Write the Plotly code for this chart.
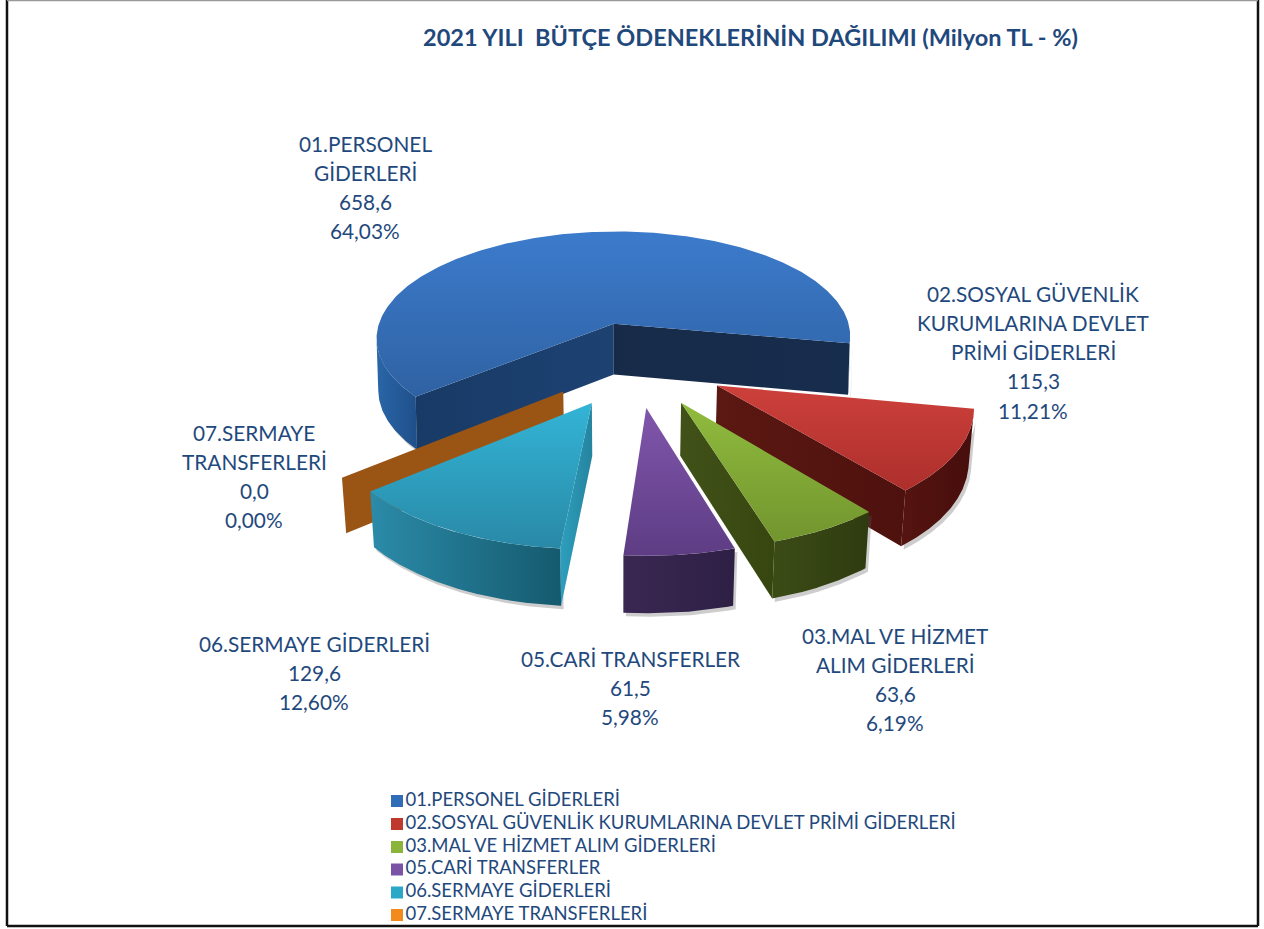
import numpy as np
import plotly.graph_objects as go

# ---------- data ----------
categories = ["01.PERSONEL GİDERLERİ",
              "02.SOSYAL GÜVENLİK KURUMLARINA DEVLET PRİMİ GİDERLERİ",
              "03.MAL VE HİZMET ALIM GİDERLERİ",
              "05.CARİ TRANSFERLER",
              "06.SERMAYE GİDERLERİ",
              "07.SERMAYE TRANSFERLERİ"]
values = [658.6, 115.3, 63.6, 61.5, 129.6, 0.0]
value_labels = ["658,6", "115,3", "63,6", "61,5", "129,6", "0,0"]
percent_labels = ["64,03%", "11,21%", "6,19%", "5,98%", "12,60%", "0,00%"]
label_lines = [["01.PERSONEL", "GİDERLERİ"],
               ["02.SOSYAL GÜVENLİK", "KURUMLARINA DEVLET", "PRİMİ GİDERLERİ"],
               ["03.MAL VE HİZMET", "ALIM GİDERLERİ"],
               ["05.CARİ TRANSFERLER"],
               ["06.SERMAYE GİDERLERİ"],
               ["07.SERMAYE", "TRANSFERLERİ"]]
title_text = "2021 YILI  BÜTÇE ÖDENEKLERİNİN DAĞILIMI (Milyon TL - %)"

# ---------- style and layout ----------
FONT = "Lato"
TEXT = "#1f497d"
label_pos = [(365, 143), (1033, 293), (895, 635), (630, 658), (314, 643), (254, 432)]
LINE_PITCH = 29.3
top_cols = [("#2f62a3", "#3c7bcc"), ("#ad2f2c", "#cd403b"), ("#72952e", "#90bc3e"),
            ("#5e3d84", "#8056ac"), ("#2989a7", "#33b4d6"), ("#9a5514", "#9a5514")]
wall_cols = [("#2a66a8", "#1f4f8a"), ("#551410", "#460e0c"), ("#3c4c16", "#2e3b10"),
             ("#3a2752", "#2e2045"), ("#2b8ba9", "#155a6e"), ("#9a5514", "#9a5514")]
face_start = [("#183a66", "#1d4272"), None, None, None, ("#2d9fbd", "#25849f"), ("#9a5514", "#9a5514")]
face_end = [("#172b49", "#172d4d"), ("#5c1812", "#4e110e"), ("#415219", "#37460f"),
            None, None, None]
legend_cols = ["#2f6db8", "#c0392f", "#8ab43c", "#7a52a6", "#2ba7c8", "#f28a1e"]
legend_y = [801, 824, 847, 869.5, 892.5, 915]
draw_order = [0, 1, 2, 3, 5, 4]
converge = [0.993, 0.985, 0.985, 0.985, 0.985, 0.985]

# projection fitted to the picture
CX, CY, RAD, TILT, PERSP, START, EXPLODE = 636.0, 363.2, 246.25, 0.465, 0.1347, 2.4439, 0.373
DEPTH, VX = 52.0, 620.0


def project(X, Y, conv=None):
    s = 1 / (1 - PERSP * Y)
    x = CX + RAD * X * s
    y = CY + RAD * TILT * Y * s
    if conv is not None:
        x = VX + (x - VX) * conv
        y = y + DEPTH * np.sqrt(s)
    return x, y


frac = np.array(values) / sum(values)
edges = START + np.concatenate([[0], np.cumsum(frac)]) * 2 * np.pi

fig = go.Figure()


def poly(x, y, cols=None, kind="vertical", solid=None):
    x = np.append(x, x[0])
    y = np.append(y, y[0])
    kw = dict(x=x, y=y, mode="lines", fill="toself", line=dict(width=0),
              hoverinfo="skip", showlegend=False)
    if solid:
        kw["fillcolor"] = solid
    else:
        kw["fillgradient"] = dict(type=kind, colorscale=[[0, cols[0]], [1, cols[1]]])
    fig.add_trace(go.Scatter(**kw))


for i in draw_order:
    t1, t2 = edges[i], edges[i + 1]
    mid = (t1 + t2) / 2
    conv = converge[i]
    ox, oy = EXPLODE * np.cos(mid), EXPLODE * np.sin(mid)
    ax, ay = project(ox, oy)
    lx, ly = project(ox, oy, conv)
    tt = np.linspace(t1, t2, 300)
    # the rim shows only between the two silhouette points of the circle
    circle = np.linspace(0, 2 * np.pi, 1441)
    cxs, _ = project(ox + np.cos(circle), oy + np.sin(circle))
    t_left, t_right = circle[np.argmin(cxs)], circle[np.argmax(cxs)]
    span = (t_left - t_right) % (2 * np.pi)
    vis = ((tt - t_right) % (2 * np.pi)) <= span
    rims = []
    idx = np.where(vis)[0]
    if len(idx):
        for seg in np.split(idx, np.where(np.diff(idx) > 1)[0] + 1):
            if len(seg) > 1:
                r = tt[seg]
                ux, uy = project(ox + np.cos(r), oy + np.sin(r))
                dx, dy = project(ox + np.cos(r), oy + np.sin(r), conv)
                rims.append((np.concatenate([ux, dx[::-1]]), np.concatenate([uy, dy[::-1]])))
    # soft shadow under the solid
    for rx, ry in rims:
        poly(rx + 2.5, ry + 3.5, solid="rgba(90,90,90,0.30)")
    for rx, ry in rims:
        poly(rx, ry, wall_cols[i], "horizontal")
    # cut faces
    for t, cols in ((t1, face_start[i]), (t2, face_end[i])):
        if cols is None:
            continue
        ex, ey = ox + np.cos(t), oy + np.sin(t)
        bx, by = project(ex, ey)
        cx2, cy2 = project(ex, ey, conv)
        poly(np.array([ax, bx, cx2, lx]), np.array([ay, by, cy2, ly]), cols, "horizontal")
    # top
    tx, ty = project(ox + np.cos(tt), oy + np.sin(tt))
    poly(np.concatenate([[ax], tx]), np.concatenate([[ay], ty]), top_cols[i], "vertical")

# data labels
for i, lines in enumerate(label_lines):
    x0, y0 = label_pos[i]
    for j, line in enumerate(lines + [value_labels[i], percent_labels[i]]):
        fig.add_annotation(x=x0, y=y0 + j * LINE_PITCH, text=line, showarrow=False,
                           xanchor="center", yanchor="middle",
                           font=dict(family=FONT, size=20.8, color=TEXT))

# title
fig.add_annotation(x=750, y=37, text="<b>" + title_text + "</b>", showarrow=False,
                   xanchor="center", yanchor="middle",
                   font=dict(family=FONT, size=23.5, color=TEXT))

# legend
fig.add_trace(go.Scatter(x=[397] * len(categories), y=legend_y, mode="markers+text",
                         marker=dict(symbol="square", size=12, color=legend_cols, line=dict(width=0)),
                         text=categories, textposition="middle right",
                         textfont=dict(family=FONT, size=18.5, color=TEXT),
                         hoverinfo="skip", showlegend=False))

# frame
frame = [((7, 0), (7, 926), "#111111", 2.5), ((1258, 0), (1258, 926), "#111111", 2.5),
         ((7, 926), (1258, 926), "#111111", 2.5), ((7, 0.5), (1258, 0.5), "#999999", 1.5)]
for a, b, c, w in frame:
    fig.add_shape(type="line", x0=a[0], y0=a[1], x1=b[0], y1=b[1], line=dict(color=c, width=w))

fig.update_layout(width=1264, height=929, margin=dict(l=0, r=0, t=0, b=0), showlegend=False,
                  paper_bgcolor="white", plot_bgcolor="white",
                  xaxis=dict(range=[0, 1264], visible=False, fixedrange=True),
                  yaxis=dict(range=[929, 0], visible=False, fixedrange=True))
fig.write_html("out.html", config=dict(displayModeBar=False),
               post_script="document.body.style.margin='0';document.body.style.overflow='hidden';")
